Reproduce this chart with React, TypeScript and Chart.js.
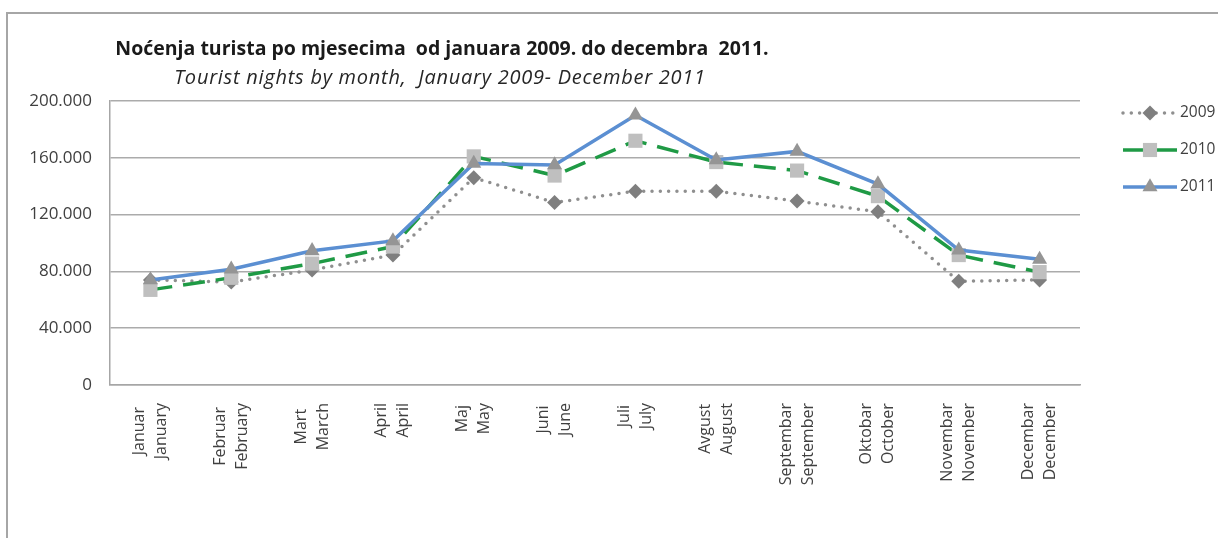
import React, { useEffect, useRef } from "react";
import { Chart, registerables } from "chart.js";

Chart.register(...registerables);

const monthsLocal = ["Januar", "Februar", "Mart", "April", "Maj", "Juni", "Juli", "Avgust", "Septembar", "Oktobar", "Novembar", "Decembar"];
const monthsEnglish = ["January", "February", "March", "April", "May", "June", "July", "August", "September", "October", "November", "December"];

const seriesNames = ["2009", "2010", "2011"];
const values2009 = [74000, 72500, 81000, 91500, 146000, 128500, 136500, 136500, 129500, 122000, 73000, 74000];
const values2010 = [67000, 75500, 85500, 97500, 161000, 147500, 172000, 157000, 151000, 133000, 91500, 79500];
const values2011 = [74000, 81500, 94500, 101500, 156000, 155000, 190000, 158500, 164500, 141500, 95000, 88500];

const yTicks = [0, 40000, 80000, 120000, 160000, 200000];

const titleMain = "Noćenja turista po mjesecima  od januara 2009. do decembra  2011.";
const titleSub = "Tourist nights by month,  January 2009- December 2011";

const W = 1218;
const H = 538;
const AREA = { left: 110, top: 101, right: 1080, bottom: 385 };
const FONT = "'Open Sans', 'DejaVu Sans', sans-serif";
const TEXT = "#404040";

function fmt(v: number): string {
  if (v === 0) return "0";
  return String(Math.round(v)).replace(/\B(?=(\d{3})+(?!\d))/g, ".");
}

function drawMarker(ctx: CanvasRenderingContext2D, style: string, r: number, x: number, y: number, color: string) {
  ctx.save();
  ctx.fillStyle = color;
  ctx.beginPath();
  if (style === "rectRot") {
    ctx.moveTo(x, y - r);
    ctx.lineTo(x + r, y);
    ctx.lineTo(x, y + r);
    ctx.lineTo(x - r, y);
  } else if (style === "rect") {
    const s = Math.SQRT1_2 * r;
    ctx.rect(x - s, y - s, 2 * s, 2 * s);
  } else {
    const a = (2 * Math.PI) / 3;
    ctx.moveTo(x, y - r);
    ctx.lineTo(x + Math.sin(a) * r, y - Math.cos(a) * r);
    ctx.lineTo(x + Math.sin(2 * a) * r, y - Math.cos(2 * a) * r);
  }
  ctx.closePath();
  ctx.fill();
  ctx.restore();
}

const xLabelPlugin = {
  id: "xLabels",
  afterDraw(chart: any) {
    const ctx: CanvasRenderingContext2D = chart.ctx;
    const xs = chart.scales.x;
    const top = AREA.bottom + 18;
    const lh = 22;
    ctx.save();
    ctx.font = `16px ${FONT}`;
    ctx.fillStyle = TEXT;
    ctx.textAlign = "center";
    ctx.textBaseline = "middle";
    monthsLocal.forEach((m, i) => {
      const lines = [m, monthsEnglish[i]];
      const x = xs.getPixelForValue(i);
      const lmax = Math.max(...lines.map((l) => ctx.measureText(l).width));
      ctx.save();
      ctx.translate(x, top);
      ctx.rotate(-Math.PI / 2);
      lines.forEach((l, j) => {
        const v = (j - (lines.length - 1) / 2) * lh;
        ctx.fillText(l, -lmax / 2, v);
      });
      ctx.restore();
    });
    ctx.restore();
  },
};

const legendPlugin = {
  id: "customLegend",
  afterDraw(chart: any) {
    const ctx: CanvasRenderingContext2D = chart.ctx;
    const rows = [113, 150, 187];
    const x0 = 1123;
    const x1 = 1177;
    chart.data.datasets.forEach((ds: any, i: number) => {
      const y = rows[i];
      ctx.save();
      ctx.strokeStyle = ds.borderColor;
      ctx.lineWidth = ds.borderWidth;
      ctx.lineCap = ds.borderCapStyle || "butt";
      ctx.setLineDash(ds.borderDash || []);
      ctx.beginPath();
      ctx.moveTo(x0, y);
      ctx.lineTo(x1, y);
      ctx.stroke();
      ctx.restore();
      drawMarker(ctx, ds.pointStyle, ds.pointRadius, (x0 + x1) / 2, y, ds.pointBackgroundColor);
      ctx.save();
      ctx.font = `15.5px ${FONT}`;
      ctx.fillStyle = TEXT;
      ctx.textAlign = "left";
      ctx.textBaseline = "middle";
      ctx.fillText(ds.label, x1 + 3, y);
      ctx.restore();
    });
  },
};

export default function App() {
  const ref = useRef<HTMLCanvasElement | null>(null);

  useEffect(() => {
    if (!ref.current) return;
    const chart = new Chart(ref.current, {
      type: "line",
      data: {
        labels: monthsLocal.map((m, i) => [m, monthsEnglish[i]]),
        datasets: [
          {
            label: seriesNames[0],
            data: values2009,
            borderColor: "#8f8f8f",
            borderWidth: 3.5,
            borderDash: [0, 8.3],
            borderCapStyle: "round",
            pointStyle: "rectRot",
            pointRadius: 7.5,
            pointHoverRadius: 7.5,
            pointBackgroundColor: "#7f7f7f",
            pointBorderWidth: 0,
            tension: 0,
            order: 2,
          },
          {
            label: seriesNames[1],
            data: values2010,
            borderColor: "#1f9a45",
            borderWidth: 3.5,
            borderDash: [22, 11],
            borderCapStyle: "butt",
            pointStyle: "rect",
            pointRadius: 10,
            pointHoverRadius: 10,
            pointBackgroundColor: "#bfbfbf",
            pointBorderWidth: 0,
            tension: 0,
            order: 1,
          },
          {
            label: seriesNames[2],
            data: values2011,
            borderColor: "#5b8fd2",
            borderWidth: 3.5,
            borderDash: [],
            borderCapStyle: "butt",
            pointStyle: "triangle",
            pointRadius: 8.7,
            pointHoverRadius: 8.7,
            pointBackgroundColor: "#959595",
            pointBorderWidth: 0,
            tension: 0,
            order: 0,
          },
        ] as any,
      },
      options: {
        animation: false,
        responsive: false,
        devicePixelRatio: 1,
        layout: { padding: { left: 0, top: AREA.top, right: W - AREA.right, bottom: 0 } },
        plugins: { legend: { display: false }, title: { display: false }, tooltip: { enabled: false } },
        scales: {
          x: {
            type: "category",
            offset: true,
            grid: { display: false, drawTicks: false },
            border: { display: true, color: "#a6a6a6", width: 1.5 },
            ticks: { display: false },
            afterFit: (s: any) => {
              s.height = H - AREA.bottom;
            },
          },
          y: {
            min: 0,
            max: 200000,
            afterBuildTicks: (s: any) => {
              s.ticks = yTicks.map((v) => ({ value: v }));
            },
            ticks: {
              padding: 18,
              color: TEXT,
              font: { family: FONT, size: 17 },
              callback: (v: any) => fmt(Number(v)),
            },
            grid: { color: "#ababab", lineWidth: 1.5, drawTicks: false },
            border: { display: true, color: "#a6a6a6", width: 1.5 },
            afterFit: (s: any) => {
              s.width = AREA.left;
            },
          },
        },
      } as any,
      plugins: [xLabelPlugin, legendPlugin],
    });
    return () => chart.destroy();
  }, []);

  return (
    <div style={{ position: "fixed", left: 0, top: 0, width: W, height: H, overflow: "hidden", background: "#fff" }}>
      <div
        style={{
          position: "absolute",
          left: 6,
          top: 12,
          width: 1400,
          height: 700,
          borderLeft: "2px solid #a6a6a6",
          borderTop: "2px solid #a6a6a6",
        }}
      />
      <canvas ref={ref} width={W} height={H} style={{ position: "absolute", left: 0, top: 0, width: W, height: H }} />
      <div
        style={{
          position: "absolute",
          left: 42,
          top: 35,
          width: 800,
          textAlign: "center",
          fontFamily: "'Open Sans', sans-serif",
          fontWeight: 700,
          fontSize: 19.5,
          lineHeight: "26px",
          color: "#1a1a1a",
          whiteSpace: "pre",
        }}
      >
        {titleMain}
      </div>
      <div
        style={{
          position: "absolute",
          left: 40,
          top: 64,
          width: 800,
          textAlign: "center",
          fontFamily: "'Open Sans', sans-serif",
          fontStyle: "italic",
          fontSize: 20,
          lineHeight: "26px",
          letterSpacing: "0.75px",
          color: "#262626",
          whiteSpace: "pre",
        }}
      >
        {titleSub}
      </div>
    </div>
  );
}
